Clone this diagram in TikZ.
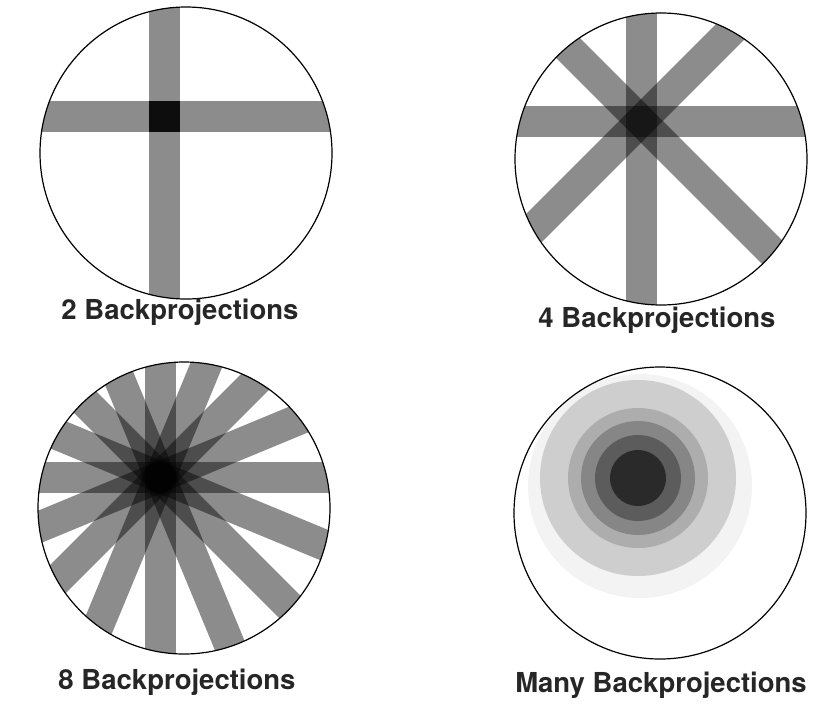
\documentclass[tikz,border=0pt]{standalone}
\usepackage{fontspec}
\setmainfont{TeX Gyre Heros}
\usetikzlibrary{positioning, calc}
\definecolor{bpInk}{HTML}{000000}
\definecolor{bpHalo}{HTML}{F3F3F3}
\definecolor{bpRingA}{HTML}{CECECE}
\definecolor{bpRingB}{HTML}{ADADAD}
\definecolor{bpRingC}{HTML}{868686}
\definecolor{bpRingD}{HTML}{5C5C5C}
\definecolor{bpCore}{HTML}{2A2A2A}
\tikzset{
    bpDisc/.style={draw=bpInk, line width=1.2pt},
    % one backprojected strip
    bpStrip/.style={fill=bpInk, fill opacity=0.45},
    bpLabel/.style={
        font=\fontsize{27.5}{30}\selectfont\bfseries,
        inner sep=0pt,
        text=bpInk!85
    }
}

\begin{document}
\begin{tikzpicture}[x=1pt, y=-1pt]
    \useasboundingbox (0,0) rectangle (835,713);
    % circle centres and the point object
    \coordinate (c1) at (186,153);
    \coordinate (p1) at (164.5,116.5);
    \coordinate (c2) at (661,159);
    \coordinate (p2) at (641,121);
    \coordinate (c3) at (184,508);
    \coordinate (p3) at (160,477);
    \coordinate (c4) at (660,513);
    \coordinate (p4) at (638,478);

    % 2 backprojections
    \begin{scope}
        \clip (c1) circle (146);
        \foreach \a in {0,90}
            \fill[bpStrip, rotate around={\a:(p1)}] ($(p1)+(-330,-15.5)$) rectangle ($(p1)+(330,15.5)$);
        \fill[bpInk!95] ($(p1)+(-15.5,-15.5)$) rectangle ($(p1)+(15.5,15.5)$);
    \end{scope}
    \draw[bpDisc] (c1) circle (146);
    \node[bpLabel] (lab1) at (180,312) {2 Backprojections};

    % 4 backprojections
    \begin{scope}
        \clip (c2) circle (146);
        \foreach \a in {0,45,90,135}
            \fill[bpStrip, rotate around={\a:(p2)}] ($(p2)+(-330,-15.5)$) rectangle ($(p2)+(330,15.5)$);
    \end{scope}
    \draw[bpDisc] (c2) circle (146);
    \node[bpLabel] (lab2) at (657,320) {4 Backprojections};

    % 8 backprojections
    \begin{scope}
        \clip (c3) circle (146);
        \foreach \a in {0,22.5,...,157.5}
            \fill[bpStrip, rotate around={\a:(p3)}] ($(p3)+(-330,-15.5)$) rectangle ($(p3)+(330,15.5)$);
    \end{scope}
    \draw[bpDisc] (c3) circle (146);
    \node[bpLabel] (lab3) at (177,682) {8 Backprojections};

    % many backprojections
    \begin{scope}
        \clip (c4) circle (146);
        \fill[bpHalo] ($(p4)+(2,8)$) circle (112);
        \fill[bpRingA] (p4) circle (98);
        \fill[bpRingB] (p4) circle (70);
        \fill[bpRingC] (p4) circle (57);
        \fill[bpRingD] (p4) circle (43);
        \fill[bpCore] (p4) circle (28);
    \end{scope}
    \draw[bpDisc] (c4) circle (146);
    \node[bpLabel] (lab4) at (661,685) {Many Backprojections};
\end{tikzpicture}
\end{document}
